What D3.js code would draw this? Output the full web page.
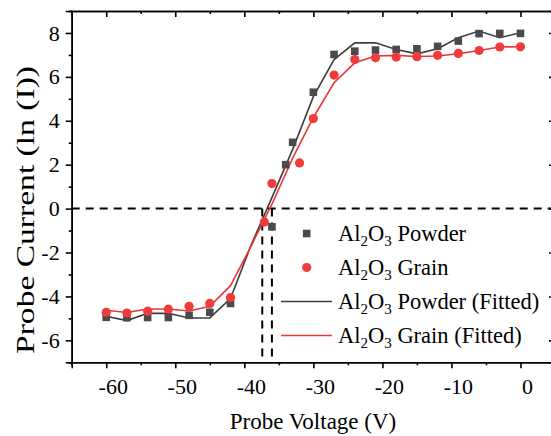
<!DOCTYPE html>
<html>
<head>
<meta charset="utf-8">
<script src="https://cdn.jsdelivr.net/npm/d3@7"></script>
<style>
  body { margin: 0; background: #fff; }
  svg text { font-family: "Liberation Serif", "Times New Roman", serif; fill: #000; }
</style>
</head>
<body>
<div id="chart"></div>
<script>
// measured data (probe voltage V, ln I)
var powderV = [-60, -57, -54, -51, -48, -45, -42, -36, -34, -33, -30, -27, -24, -21, -18, -15, -12, -9, -6, -3, 0];
var powderI = [-4.95, -4.97, -4.96, -4.96, -4.86, -4.72, -4.32, -0.83, 2.0, 3.02, 5.3, 7.02, 7.17, 7.22, 7.25, 7.28, 7.39, 7.63, 7.97, 7.98, 7.98];

var grainV = [-60, -57, -54, -51, -48, -45, -42, -37.1, -36, -32, -30, -27, -24, -21, -18, -15, -12, -9, -6, -3, 0];
var grainI = [-4.72, -4.76, -4.67, -4.58, -4.45, -4.32, -4.05, -0.61, 1.14, 2.08, 4.1, 6.08, 6.79, 6.87, 6.9, 6.92, 6.98, 7.07, 7.2, 7.36, 7.37];

// fitted curves
var fitV = [-60, -57, -54, -51, -48, -45, -42, -39, -36, -33, -30, -27, -24, -21, -18, -15, -12, -9, -6, -3, 0];
var powderFitI = [-4.9, -5.1, -4.77, -4.77, -4.98, -4.98, -4.1, -1.65, 0.5, 2.7, 5.1, 6.79, 7.55, 7.55, 7.25, 7.05, 7.28, 7.78, 8.09, 7.78, 8.01];
var grainFitI = [-4.63, -4.73, -4.57, -4.57, -4.66, -4.45, -3.51, -1.7, 0.2, 2.3, 4.15, 5.73, 6.64, 6.95, 6.98, 6.93, 6.95, 7.05, 7.2, 7.36, 7.37];

// floating potentials (dashed guides)
var floatV = [-37.4, -36.0];

var xMajor = [-60, -50, -40, -30, -20, -10, 0];
var xMinor = [-65, -55, -45, -35, -25, -15, -5, 5];
var yMajor = [-6, -4, -2, 0, 2, 4, 6, 8];
var yMinor = [-7, -5, -3, -1, 1, 3, 5, 7, 9];

var grey = "#4a4a4a";
var greyLine = "#3d3d3d";
var red = "#ef3b3b";
var redLine = "#f03434";
var serif = '"Liberation Serif", "Times New Roman", serif';

var svgWidth = 551;
var svgHeight = 436;

var margin = { top: 11, left: 71.7 };
var width = 483.3;
var height = 351.3;

var svg = d3.select("#chart")
  .append("svg")
  .attr("width", svgWidth)
  .attr("height", svgHeight);

var chartGroup = svg.append("g")
  .attr("transform", `translate(${margin.left}, ${margin.top})`);

var xScale = d3.scaleLinear().domain([-65, 5]).range([0, width]);
var yScale = d3.scaleLinear().domain([-7, 9]).range([height, 0]);

var fmt = d => String(d);

function styleAxis(g) {
  g.attr("font-family", serif);
  g.select(".domain").attr("stroke", "#000").attr("stroke-width", 1.6);
  g.selectAll(".tick line").attr("stroke", "#000").attr("stroke-width", 1.6);
  g.selectAll(".tick text")
    .style("font-family", serif)
    .style("font-size", "22px")
    .attr("fill", "#000");
}

// minor ticks first
chartGroup.append("g")
  .attr("transform", `translate(0, ${height})`)
  .call(d3.axisBottom(xScale).tickValues(xMinor).tickSize(3).tickFormat(""))
  .call(styleAxis);
chartGroup.append("g")
  .call(d3.axisTop(xScale).tickValues(xMinor).tickSize(-3).tickFormat(""))
  .call(styleAxis);
chartGroup.append("g")
  .call(d3.axisLeft(yScale).tickValues(yMinor).tickSize(3).tickFormat(""))
  .call(styleAxis);
chartGroup.append("g")
  .attr("transform", `translate(${width}, 0)`)
  .call(d3.axisRight(yScale).tickValues(yMinor).tickSize(-3).tickFormat(""))
  .call(styleAxis);

// major ticks
chartGroup.append("g")
  .attr("transform", `translate(0, ${height})`)
  .call(d3.axisBottom(xScale).tickValues(xMajor).tickSize(6).tickPadding(10).tickFormat(fmt))
  .call(styleAxis)
  .selectAll(".tick text").attr("dx", 6.5);
chartGroup.append("g")
  .call(d3.axisTop(xScale).tickValues(xMajor).tickSize(-6).tickFormat(""))
  .call(styleAxis);
chartGroup.append("g")
  .call(d3.axisLeft(yScale).tickValues(yMajor).tickSize(6).tickPadding(6).tickFormat(fmt))
  .call(styleAxis);
chartGroup.append("g")
  .attr("transform", `translate(${width}, 0)`)
  .call(d3.axisRight(yScale).tickValues(yMajor).tickSize(-6).tickFormat(""))
  .call(styleAxis);

// dashed guides
chartGroup.append("line")
  .attr("x1", 0)
  .attr("x2", width)
  .attr("y1", yScale(0))
  .attr("y2", yScale(0))
  .attr("stroke", "#000")
  .attr("stroke-width", 2)
  .attr("stroke-dasharray", "8,6");

chartGroup.selectAll(".vguide")
  .data(floatV)
  .enter()
  .append("line")
  .attr("class", "vguide")
  .attr("x1", d => xScale(d))
  .attr("x2", d => xScale(d))
  .attr("y1", yScale(0))
  .attr("y2", height)
  .attr("stroke", "#000")
  .attr("stroke-width", 2)
  .attr("stroke-dasharray", "8,6");

// fitted lines
var line = d3.line()
  .x(d => xScale(d[0]))
  .y(d => yScale(d[1]));

chartGroup.append("path")
  .datum(d3.zip(fitV, powderFitI))
  .attr("d", line)
  .attr("fill", "none")
  .attr("stroke", greyLine)
  .attr("stroke-width", 1.6);

chartGroup.append("path")
  .datum(d3.zip(fitV, grainFitI))
  .attr("d", line)
  .attr("fill", "none")
  .attr("stroke", redLine)
  .attr("stroke-width", 1.6);

// markers
var sq = 7.6;
chartGroup.selectAll(".powder")
  .data(d3.zip(powderV, powderI))
  .enter()
  .append("rect")
  .attr("class", "powder")
  .attr("x", d => xScale(d[0]) - sq / 2)
  .attr("y", d => yScale(d[1]) - sq / 2)
  .attr("width", sq)
  .attr("height", sq)
  .attr("fill", grey);

chartGroup.selectAll(".grain")
  .data(d3.zip(grainV, grainI))
  .enter()
  .append("circle")
  .attr("class", "grain")
  .attr("cx", d => xScale(d[0]))
  .attr("cy", d => yScale(d[1]))
  .attr("r", 4.6)
  .attr("fill", red);

// legend
var legendItems = [
  { name: "Powder", kind: "square" },
  { name: "Grain", kind: "circle" },
  { name: "Powder (Fitted)", kind: "line", color: greyLine },
  { name: "Grain (Fitted)", kind: "line", color: redLine }
];

var legend = svg.append("g");

legendItems.forEach(function(item, i) {
  var cy = 233.5 + i * 34;
  if (item.kind === "square") {
    legend.append("rect")
      .attr("x", 306.7 - sq / 2).attr("y", cy - sq / 2)
      .attr("width", sq).attr("height", sq)
      .attr("fill", grey);
  } else if (item.kind === "circle") {
    legend.append("circle")
      .attr("cx", 306.7).attr("cy", cy)
      .attr("r", 4.6)
      .attr("fill", red);
  } else {
    legend.append("line")
      .attr("x1", 281).attr("x2", 332)
      .attr("y1", cy).attr("y2", cy)
      .attr("stroke", item.color)
      .attr("stroke-width", 1.6);
  }
  var t = legend.append("text")
    .attr("x", 338)
    .attr("y", cy + 7.5)
    .style("font-size", "22.5px");
  t.append("tspan").text("Al");
  t.append("tspan").text("2").attr("dy", 5).style("font-size", "15px");
  t.append("tspan").text("O").attr("dy", -5);
  t.append("tspan").text("3").attr("dy", 5).style("font-size", "15px");
  t.append("tspan").text(" " + item.name).attr("dy", -5);
});

// axis titles
svg.append("text")
  .attr("x", 313)
  .attr("y", 429)
  .attr("text-anchor", "middle")
  .style("font-size", "23px")
  .text("Probe Voltage (V)");

svg.append("text")
  .attr("transform", "rotate(-90)")
  .attr("x", -210)
  .attr("y", 34)
  .attr("text-anchor", "middle")
  .attr("textLength", 288)
  .attr("lengthAdjust", "spacingAndGlyphs")
  .style("font-size", "25px")
  .text("Probe Current (ln (I))");
</script>
</body>
</html>
